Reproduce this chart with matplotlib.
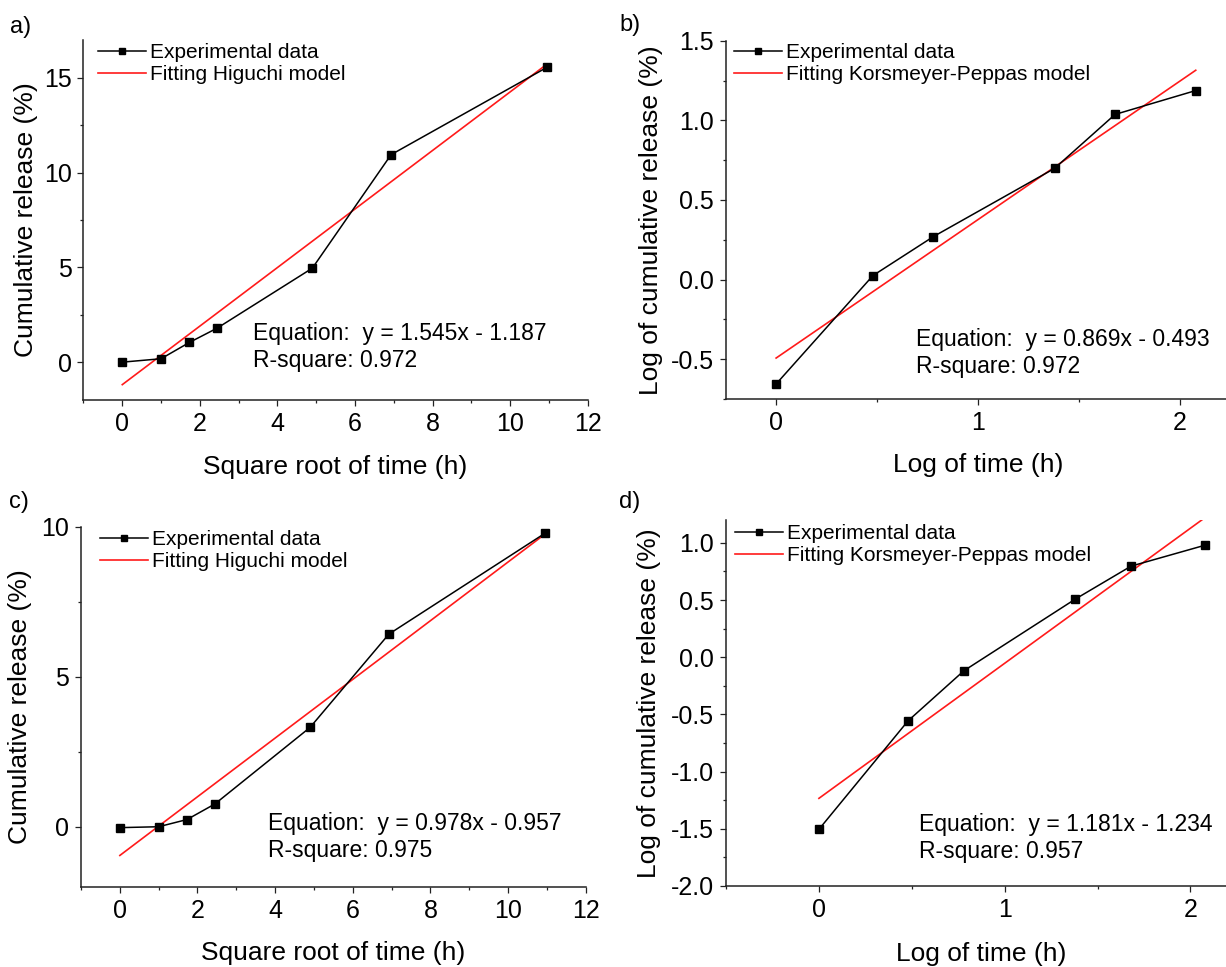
import numpy as np
import matplotlib.pyplot as plt
from matplotlib.ticker import MultipleLocator

plt.rcParams['font.family'] = ['Liberation Sans', 'DejaVu Sans']
plt.rcParams['axes.unicode_minus'] = False

# square root of time (h) and log of time (h)
x_sqrt = [0, 1.0, 1.73, 2.45, 4.9, 6.93, 10.95]
x_log = [0, 0.48, 0.78, 1.38, 1.68, 2.08]

y_a = [0, 0.18, 1.04, 1.8, 4.96, 10.95, 15.56]
y_b = [-0.656, 0.025, 0.27, 0.698, 1.037, 1.187]
y_c = [-0.03, 0.0, 0.24, 0.76, 3.31, 6.42, 9.78]
y_d = [-1.505, -0.556, -0.119, 0.508, 0.796, 0.98]

slopes = [1.545, 0.869, 0.978, 1.181]
intercepts = [-1.187, -0.493, -0.957, -1.234]
r_square = ['0.972', '0.972', '0.975', '0.957']

panel_names = ['a)', 'b)', 'c)', 'd)']
model_names = ['Higuchi', 'Korsmeyer-Peppas', 'Higuchi', 'Korsmeyer-Peppas']
xlabels = ['Square root of time (h)', 'Log of time (h)', 'Square root of time (h)', 'Log of time (h)']
ylabels = ['Cumulative release (%)', 'Log of cumulative release (%)',
           'Cumulative release (%)', 'Log of cumulative release (%)']

xs = [x_sqrt, x_log, x_sqrt, x_log]
ys = [y_a, y_b, y_c, y_d]

# layout, in figure fractions
positions = [[0.0681, 0.5863, 0.4113, 0.3723],
             [0.5919, 0.5874, 0.4114, 0.3705],
             [0.0661, 0.0830, 0.4116, 0.3723],
             [0.5922, 0.0838, 0.4167, 0.3785]]
xlims = [(-1, 12), (-0.25, 2.25), (-1, 12), (-0.5, 2.25)]
ylims = [(-2, 17), (-0.75, 1.5), (-2, 10), (-2, 1.2)]
xmajor = [2, 1, 2, 1]
ymajor = [5, 0.5, 5, 0.5]
leg_anchor = [(0.029, 0.992), (0.017, 0.994), (0.038, 0.991), (0.018, 0.989)]
eq_pos = [(0.337, 0.185, 0.111), (0.377, 0.165, 0.090),
          (0.371, 0.176, 0.102), (0.378, 0.167, 0.094)]
ylab_x = [-0.090, -0.124, -0.097, -0.127]
label_pos = [(10, 27), (619, 25), (9, 502), (619, 502)]

W, H = 1226, 967
fig = plt.figure(figsize=(W / 100, H / 100), dpi=100)

for i in range(4):
    ax = fig.add_axes(positions[i])
    x = np.array(xs[i])
    ax.plot(x, ys[i], color='black', lw=1.1, marker='s', ms=5.5,
            label='Experimental data', zorder=3)
    xf = np.array([x[0], x[-1]])
    ax.plot(xf, slopes[i] * xf + intercepts[i], color='#ff1a1a', lw=1.2,
            label='Fitting ' + model_names[i] + ' model', zorder=2)

    ax.set_xlim(xlims[i])
    ax.set_ylim(ylims[i])
    ax.xaxis.set_major_locator(MultipleLocator(xmajor[i]))
    ax.xaxis.set_minor_locator(MultipleLocator(xmajor[i] / 2))
    ax.yaxis.set_major_locator(MultipleLocator(ymajor[i]))
    ax.yaxis.set_minor_locator(MultipleLocator(ymajor[i] / 2))

    ax.spines['top'].set_visible(False)
    ax.spines['right'].set_visible(False)
    for s in ['left', 'bottom']:
        ax.spines[s].set_linewidth(1.1)
        ax.spines[s].set_color('#222222')
    ax.tick_params(which='major', direction='out', length=4.5, width=0.9,
                   labelsize=18, pad=4, color='#222222')
    ax.tick_params(which='minor', direction='out', length=2.5, width=0.9,
                   color='#222222')

    ax.set_xlabel(xlabels[i], fontsize=19)
    ax.set_ylabel(ylabels[i], fontsize=19)
    ax.xaxis.set_label_coords(0.5, -0.152)
    ax.yaxis.set_label_coords(ylab_x[i], 0.5)
    ax.xaxis.label.set_va('top')

    ax.legend(loc='upper left', bbox_to_anchor=leg_anchor[i], frameon=False,
              fontsize=15, borderpad=0, borderaxespad=0, handlelength=2.3,
              handletextpad=0.2, labelspacing=0.15, markerscale=0.8)

    ex, ey1, ey2 = eq_pos[i]
    ax.text(ex, ey1, 'Equation:  y = %.3fx - %.3f' % (slopes[i], -intercepts[i]),
            transform=ax.transAxes, fontsize=16.5, va='center', ha='left')
    ax.text(ex, ey2, 'R-square: ' + r_square[i],
            transform=ax.transAxes, fontsize=16.5, va='center', ha='left')

    px, py = label_pos[i]
    fig.text(px / W, 1 - py / H, panel_names[i], fontsize=17, va='center', ha='left')

fig.savefig('out.png', dpi=100)
